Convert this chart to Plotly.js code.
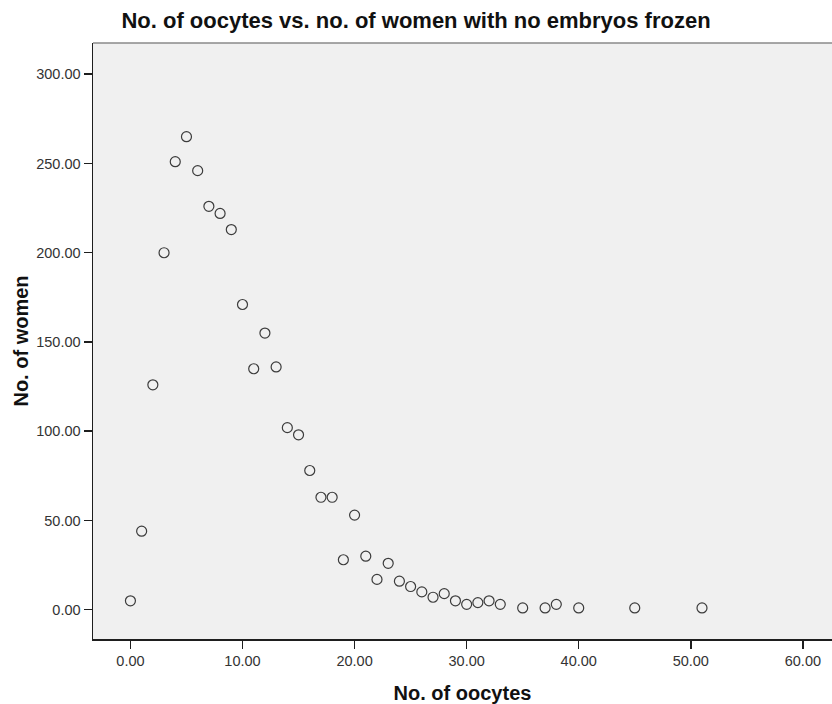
<!DOCTYPE html>
<html>
<head>
<meta charset="utf-8">
<script src="https://cdn.plot.ly/plotly-3.0.1.min.js"></script>
<style>
  html, body { margin: 0; padding: 0; background: #ffffff; }
  #chart { width: 832px; height: 704px; }
</style>
</head>
<body>
<div id="chart"></div>
<script>
// Number of oocytes retrieved, and how many women had that count with no embryos frozen
const oocytes = [0, 1, 2, 3, 4, 5, 6, 7, 8, 9, 10, 11, 12, 13, 14, 15, 16, 17, 18, 19,
                 20, 21, 22, 23, 24, 25, 26, 27, 28, 29, 30, 31, 32, 33, 35, 37, 38, 40, 45, 51];
const women = [5, 44, 126, 200, 251, 265, 246, 226, 222, 213, 171, 135, 155, 136, 102, 98, 78, 63, 63, 28,
               53, 30, 17, 26, 16, 13, 10, 7, 9, 5, 3, 4, 5, 3, 1, 1, 3, 1, 1, 1];

const xTicks = [0, 10, 20, 30, 40, 50, 60];
const yTicks = [0, 50, 100, 150, 200, 250, 300];

const FONT = 'Liberation Sans, Arial, Helvetica, sans-serif';

const trace = {
  type: 'scatter',
  mode: 'markers',
  x: oocytes,
  y: women,
  marker: {
    symbol: 'circle-open',
    size: 10,
    color: '#3c3c3c',
    line: { width: 1.2, color: '#3c3c3c' }
  },
  hoverinfo: 'x+y'
};

const axisCommon = {
  showgrid: false,
  zeroline: false,
  showline: true,
  linecolor: '#1e1e1e',
  linewidth: 1.5,
  ticks: 'outside',
  ticklen: 8,
  tickwidth: 1.5,
  tickcolor: '#1e1e1e',
  tickformat: '.2f',
  tickfont: { family: FONT, size: 14.5, color: '#333333' },
  automargin: false
};

const layout = {
  width: 832,
  height: 704,
  paper_bgcolor: '#ffffff',
  plot_bgcolor: '#f0f0f0',
  showlegend: false,
  margin: { l: 93, r: 0, t: 43, b: 65 },
  title: {
    text: '<b>No. of oocytes vs. no. of women with no embryos frozen</b>',
    font: { family: FONT, size: 22, color: '#111111' },
    x: 0.5,
    xref: 'container',
    xanchor: 'center',
    y: 0.971,
    yref: 'container',
    yanchor: 'middle'
  },
  xaxis: Object.assign({}, axisCommon, {
    range: [-3.34, 62.6],
    tickvals: xTicks,
    title: {
      text: '<b>No. of oocytes</b>',
      font: { family: FONT, size: 20, color: '#111111' },
      standoff: 18
    }
  }),
  yaxis: Object.assign({}, axisCommon, {
    range: [-16.4, 317.5],
    tickvals: yTicks,
    title: {
      text: '<b>No. of women</b>',
      font: { family: FONT, size: 20, color: '#111111' },
      standoff: 2
    }
  }),
  shapes: [{
    type: 'line',
    xref: 'paper', yref: 'paper',
    x0: 0, x1: 1, y0: 1, y1: 1,
    line: { color: '#8a8a8a', width: 1.5 }
  }]
};

Plotly.newPlot('chart', [trace], layout, { displayModeBar: false, staticPlot: true });
</script>
</body>
</html>
